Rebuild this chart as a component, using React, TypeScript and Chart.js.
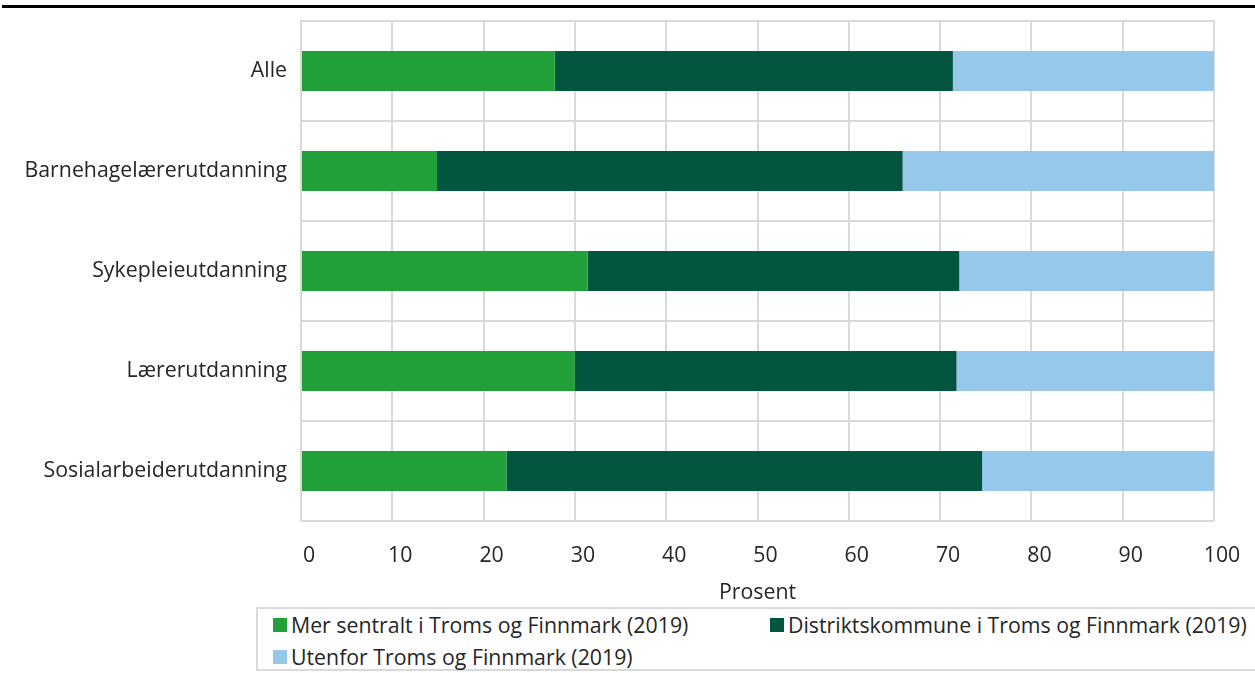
import React, { useEffect, useRef } from "react";
import { Chart, registerables } from "chart.js";

Chart.register(...registerables);

const categories = [
  "Alle",
  "Barnehagelærerutdanning",
  "Sykepleieutdanning",
  "Lærerutdanning",
  "Sosialarbeiderutdanning",
];
const sentralt = [27.8, 14.9, 31.4, 30.0, 22.5];
const distrikt = [43.6, 51.0, 40.7, 41.8, 52.1];
const utenfor = [28.6, 34.1, 27.9, 28.2, 25.4];
const seriesNames = [
  "Mer sentralt i Troms og Finnmark (2019)",
  "Distriktskommune i Troms og Finnmark (2019)",
  "Utenfor Troms og Finnmark (2019)",
];
const colors = ["#21A03A", "#02553F", "#96C8EB"];
const xTitle = "Prosent";

const FONT = "'Open Sans', sans-serif";
const FS = 21.3;

const topEdge = {
  id: "topEdge",
  beforeDatasetsDraw(chart: any) {
    const { ctx, chartArea } = chart;
    ctx.save();
    ctx.strokeStyle = "#d9d9d9";
    ctx.lineWidth = 2;
    ctx.beginPath();
    ctx.moveTo(chartArea.left - 1, chartArea.top);
    ctx.lineTo(chartArea.right + 1, chartArea.top);
    ctx.stroke();
    ctx.restore();
  },
};

export default function App() {
  const ref = useRef<HTMLCanvasElement | null>(null);
  useEffect(() => {
    if (!ref.current) return;
    const chart = new Chart(ref.current, {
      type: "bar",
      data: {
        labels: categories,
        datasets: [sentralt, distrikt, utenfor].map((d, i) => ({
          label: seriesNames[i],
          data: d,
          backgroundColor: colors[i],
          borderWidth: 0,
          categoryPercentage: 0.4,
          barPercentage: 1,
        })),
      },
      options: {
        indexAxis: "y",
        animation: false,
        responsive: false,
        maintainAspectRatio: false,
        layout: { padding: { top: 21, right: 41, left: 0, bottom: 0 } },
        plugins: { legend: { display: false }, tooltip: { enabled: false } },
        scales: {
          x: {
            stacked: true,
            min: 0,
            max: 100,
            ticks: {
              stepSize: 10,
              color: "#262626",
              font: { family: FONT, size: FS },
              padding: 22,
              labelOffset: 8,
            },
            grid: { color: "#d9d9d9", lineWidth: 2, drawTicks: false },
            border: { display: false },
            title: {
              display: true,
              text: xTitle,
              color: "#262626",
              font: { family: FONT, size: FS },
              padding: { top: 2, bottom: 0 },
            },
            afterFit: (s: any) => {
              s.height = 85;
              s.paddingLeft = 0;
              s.paddingRight = 0;
            },
          },
          y: {
            stacked: true,
            ticks: {
              color: "#262626",
              font: { family: FONT, size: FS },
              padding: 14,
            },
            grid: { color: "#d9d9d9", lineWidth: 2, drawTicks: false, offset: true },
            border: { display: false },
            afterFit: (s: any) => {
              s.width = 301;
              s.paddingTop = 0;
              s.paddingBottom = 0;
            },
          },
        },
      },
      plugins: [topEdge],
    });
    return () => chart.destroy();
  }, []);

  const legendItem = (i: number) => (
    <span style={{ display: "inline-flex", alignItems: "center", whiteSpace: "nowrap" }}>
      <span
        style={{
          display: "inline-block",
          width: 14,
          height: 14,
          background: colors[i],
          marginRight: 4,
        }}
      />
      <span>{seriesNames[i]}</span>
    </span>
  );

  return (
    <div
      style={{
        position: "absolute",
        left: 0,
        top: 0,
        width: 1255,
        height: 673,
        overflow: "hidden",
        background: "#fff",
        fontFamily: FONT,
      }}
    >
      <div
        style={{
          position: "absolute",
          left: 2,
          top: 5,
          width: 1253,
          height: 3,
          background: "#000",
        }}
      />
      <canvas
        ref={ref}
        width={1255}
        height={606}
        style={{ position: "absolute", left: 0, top: 0, width: 1255, height: 606 }}
      />
      <div
        style={{
          position: "absolute",
          left: 256,
          top: 607,
          width: 1010,
          height: 64,
          border: "2px solid #d9d9d9",
          boxSizing: "border-box",
          fontSize: FS,
          lineHeight: "26px",
          color: "#262626",
        }}
      >
        <div style={{ position: "absolute", left: 15, top: 2 }}>{legendItem(0)}</div>
        <div style={{ position: "absolute", left: 512, top: 2 }}>{legendItem(1)}</div>
        <div style={{ position: "absolute", left: 15, top: 34 }}>{legendItem(2)}</div>
      </div>
    </div>
  );
}
